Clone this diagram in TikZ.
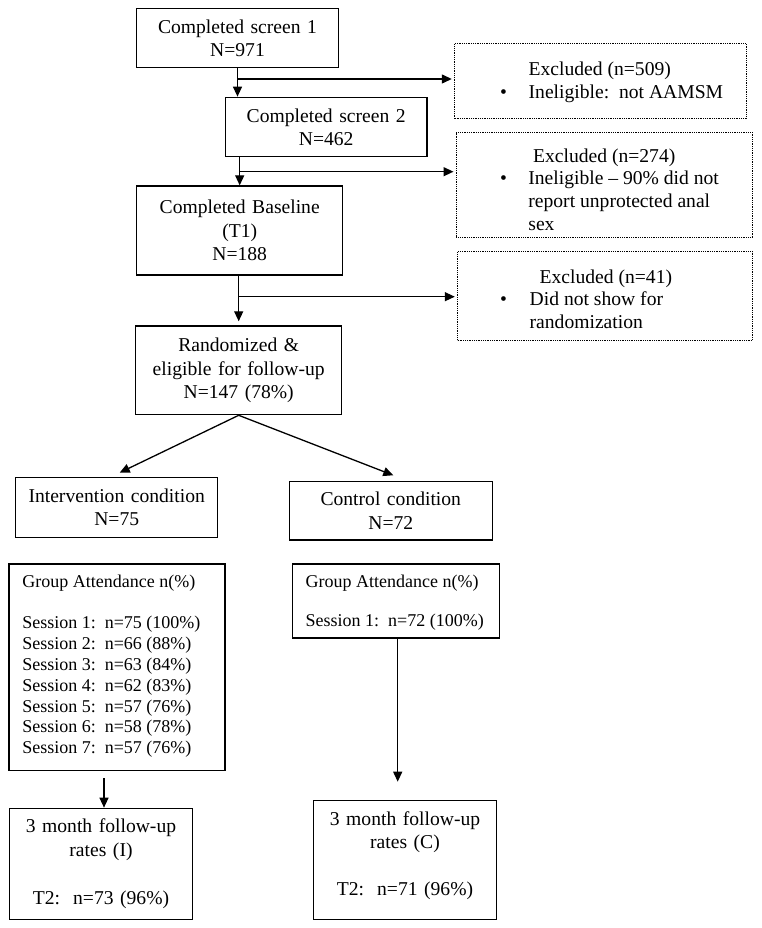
\documentclass[tikz,border=0pt]{standalone}
\usepackage{fontspec}
\setmainfont{Liberation Serif}
\usetikzlibrary{arrows.meta}
\tikzset{
  box/.style={draw, line width=1.3pt, inner sep=0pt, align=center, font=\fontsize{19.6pt}{23.3pt}\selectfont},
  exbox/.style={draw, line width=0.8pt, dash pattern=on 0.9pt off 0.9pt, inner sep=0pt, anchor=north west, font=\fontsize{19.6pt}{22.8pt}\selectfont},
  gabox/.style={draw, line width=1.3pt, inner sep=0pt, anchor=north west, font=\fontsize{18pt}{20.8pt}\selectfont},
  arr/.style={line width=1.3pt, -{Triangle[length=10pt,width=9pt]}}
}
\begin{document}
\begin{tikzpicture}[x=1pt,y=-1pt]
\path[fill=white] (0,0) rectangle (762,928);
\useasboundingbox (0,0) rectangle (762,928);

% main chain
\node[box, text width=201.6pt, minimum height=59.4pt] (s1) at (237.5,38) {Completed screen 1\\N=971};
\node[box, text width=201.7pt, minimum height=59.4pt] (s2) at (326.2,127) {Completed screen 2\\N=462};
\node[box, text width=206pt, minimum height=89pt] (bl) at (239.7,230.5) {Completed Baseline\\(T1)\\N=188};
\node[box, text width=206pt, minimum height=88.7pt] (rnd) at (238.7,370.3) {Randomized \&\\eligible for follow-up\\N=147 (78\%)};
\node[box, text width=202pt, minimum height=60pt] (iv) at (116.7,507.3) {Intervention condition\\N=75};
\node[box, text width=203pt, minimum height=58.3pt] (ct) at (390.8,510.8) {Control condition\\N=72};
\node[box, text width=183.4pt, minimum height=111pt] (fui) at (101,863.8) {3 month follow-up\\rates (I)\\[25pt]T2:\ \ n=73 (96\%)};
\node[box, text width=183.4pt, minimum height=118.6pt] (fuc) at (405,860) {3 month follow-up\\rates (C)\\[23.7pt]T2:\ \ n=71 (96\%)\rule[-13pt]{0pt}{1pt}};

% excluded boxes
\node[exbox] (ex1) at (454.3,43.3) {\parbox[t][74.7pt][t]{291.7pt}{\raggedright
\hspace*{74pt}\rule{0pt}{31.7pt}Excluded (n=509)\par
\leftskip=74pt\noindent\llap{\textbullet\hspace{21.6pt}}Ineligible:\ \ not AAMSM\par}};
\node[exbox] (ex2) at (456,132.5) {\parbox[t][104.8pt][t]{296.3pt}{\raggedright
\hspace*{76.7pt}\rule{0pt}{29.2pt}Excluded (n=274)\par
\leftskip=72pt\noindent\llap{\textbullet\hspace{21.3pt}}Ineligible -- 90\% did not\\report unprotected anal\\sex\par}};
\node[exbox] (ex3) at (457.3,251.3) {\parbox[t][88.7pt][t]{294.7pt}{\raggedright
\hspace*{82pt}\rule{0pt}{31.4pt}Excluded (n=41)\par
\leftskip=72pt\noindent\llap{\textbullet\hspace{22.6pt}}Did not show for\\randomization\par}};

% group attendance boxes
\node[gabox] (gai) at (8.3,563.3) {\parbox[t][206.7pt][t]{216pt}{\raggedright\leftskip=13.4pt
\rule{0pt}{23.4pt}Group Attendance n(\%)\\[20.8pt]
Session 1:\ \ n=75 (100\%)\\
Session 2:\ \ n=66 (88\%)\\
Session 3:\ \ n=63 (84\%)\\
Session 4:\ \ n=62 (83\%)\\
Session 5:\ \ n=57 (76\%)\\
Session 6:\ \ n=58 (78\%)\\
Session 7:\ \ n=57 (76\%)\par}};
\node[gabox] (gac) at (291.7,563.3) {\parbox[t][74pt][t]{207.3pt}{\raggedright\leftskip=13.3pt
\rule{0pt}{23.4pt}Group Attendance n(\%)\\[18.5pt]
Session 1:\ \ n=72 (100\%)\par}};

% connectors
\draw[arr] (s1.south) -- (s1.south |- s2.north);
\coordinate (b1) at (237.5,79);
\draw[arr, shorten >=2.5pt] (b1) -- (b1 -| ex1.west);

\draw[arr] (bl.north |- s2.south) -- (bl.north);
\coordinate (b2) at (239.7,171.7);
\draw[arr, shorten >=2.5pt] (b2) -- (b2 -| ex2.west);

\draw[arr, shorten >=4pt] (rnd.north |- bl.south) -- (rnd.north);
\coordinate (b3) at (238.7,296.7);
\draw[arr, shorten >=2.5pt] (b3) -- (b3 -| ex3.west);

\draw[arr] (rnd.south) -- ([xshift=3pt,yshift=4pt]iv.north);
\draw[arr] (rnd.south) -- ([xshift=2.5pt,yshift=5.7pt]ct.north);

\coordinate (iout) at (104,778.3);
\draw[arr] (iout) -- (iout |- fui.north);
\coordinate (cend) at (397.7,781.7);
\draw[arr] (cend |- gac.south) -- (cend);
\end{tikzpicture}
\end{document}
